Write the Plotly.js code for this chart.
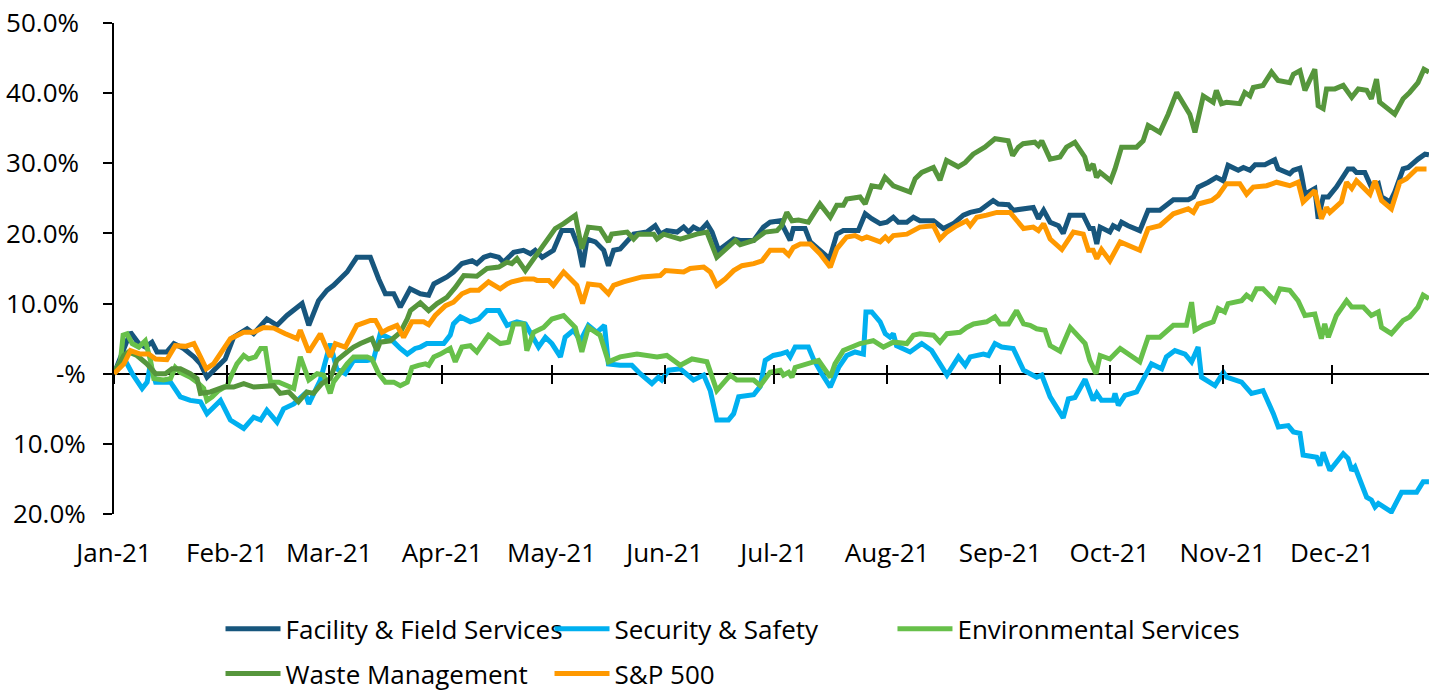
<!DOCTYPE html>
<html>
<head>
<meta charset="utf-8">
<script src="https://cdn.plot.ly/plotly-3.0.1.min.js"></script>
<style>
  html, body { margin: 0; padding: 0; background: #ffffff; }
  #chart { width: 1429px; height: 693px; }
</style>
</head>
<body>
<div id="chart"></div>
<script>
// ---- DATA (x = days since 1 Jan 2021, y = cumulative return in %) ----
const seriesNames = ["Facility & Field Services", "Security & Safety", "Environmental Services", "Waste Management", "S&P 500"];
const seriesColors = ["#17567D", "#00B0F0", "#67C04A", "#56963C", "#FF9900"];

const facilityDays = [0,4.5,6.8,8.6,10.4,11.8,14.5,16.4,19.1,21.9,23.7,25.5,27.8,30.5,32.8,36.5,38.3,41.9,44.7,47.4,51.6,53.4,56.1,58.4,60.2,63.9,66.6,70.3,72.6,74.4,76.7,78.5,81.2,84,86.3,87.7,91.3,93.1,95.4,98.2,99.5,101.4,103.2,105.5,106.8,109.6,112.3,114.2,115.5,117.4,120.5,122.8,125.6,127.4,128.5,129.7,132,134.3,135.6,137,138.8,142.5,146.1,148.4,149.8,151.6,154.4,156.2,157.6,158.9,160.8,162.6,164,165.8,168.1,169.9,171.7,175.4,178.1,179.9,182.7,184,185.4,186.3,189.5,190.9,193.6,196.2,198.2,200,204.1,206,207.8,210.1,211.9,213.7,215.1,217.4,219.2,221,224.7,227.4,230.2,232.9,234.8,237.5,241.1,242.5,245.3,246.6,252.1,253.5,254.9,256.7,259,260.3,262.1,265.8,267.6,268.5,269.5,270.4,273.1,274,275.4,276.3,278.1,281.3,283.6,286.8,290.5,294.6,296,297.3,300.1,302.3,304.2,305.5,308.3,309.7,311.5,312.9,315.6,317,318.3,319.2,322.4,323.4,325.2,325.6,326.6,329.3,330.2,331.6,333,335.2,338.4,339.8,340.7,343,344.8,346.7,347.6,349.9,351.2,353.5,354.9,357.6,359.5,360.6];
const facilityPct = [0,5.9,4.3,3.8,4.5,3.1,3.1,4.3,3.6,2.4,1.4,-0.5,0.7,2.1,5.2,6.4,5.7,7.8,6.9,8.3,10.0,6.9,10.4,11.9,12.6,14.5,16.6,16.6,13.5,11.4,11.4,9.5,12.1,11.4,11.2,12.8,13.8,14.5,15.7,16.1,15.7,16.6,16.9,16.6,15.9,17.3,17.6,17.1,17.6,16.6,17.6,20.4,20.4,18.0,15.2,19.2,18.8,17.6,15.4,17.6,17.8,19.9,20.2,21.1,19.9,20.4,20.2,20.9,20.2,20.9,20.4,21.4,20.2,17.6,18.5,19.2,19.0,19.0,20.9,21.6,21.8,20.4,19.0,20.7,20.7,18.8,17.6,16.4,19.9,20.4,20.4,22.8,22.1,21.4,21.6,22.3,21.6,21.6,22.3,21.8,21.8,20.7,21.4,22.6,23.0,23.3,24.7,24.2,24.1,23.3,23.7,22.1,23.3,21.6,21.1,20.0,22.6,22.6,20.7,20.7,18.5,20.9,20.2,21.1,20.7,21.6,21.1,20.4,23.3,23.3,24.8,24.8,25.2,26.6,27.3,28.0,27.5,29.7,29.0,29.4,29.0,29.8,29.8,30.2,30.5,29.2,28.5,29.0,29.3,28.5,25.6,26.4,22.1,25.2,25.2,26.6,29.2,29.2,28.7,28.7,26.6,27.1,25.2,24.5,25.9,29.2,29.4,30.6,31.3,31.2];

const securityDays = [0,3.1,5,7.7,9.1,10,11.4,15.5,18.2,20.9,23.7,25.5,29.2,31.9,35.6,38.3,40.2,41.9,44.7,46.5,49.3,52.4,53.4,56.6,59.3,61.1,63.4,65.7,69.4,71.2,73,75.8,78.5,80.4,82.6,84,85.8,90.4,92.2,93.1,95,97.7,100,102.3,105.5,107.8,110.5,112.8,116.4,118.3,120.1,122.4,123.7,126,127.9,130.1,132.4,134.5,135.6,138.8,142,144.3,147.5,149.3,150.2,152.1,155.3,158.9,161.7,163.5,165.3,168.5,169.9,171.3,175.4,177.2,178.6,180.8,182.7,184.5,185.4,186.8,190.4,191.8,194.1,196.4,198.7,200.9,203.2,205.5,206.2,207.8,210.1,211.5,212.8,213.7,214.6,218.3,221.5,224.2,226.5,228.4,231.6,233.4,234.8,238.4,239.8,241.6,243.4,246.6,249.4,253,254.4,256.7,260.3,261.7,263.5,266.3,268.5,269.5,270.8,274,274.5,275.4,277.2,280.4,284.5,287.3,288.6,290.9,293.7,295.5,297.3,298.2,301.9,304.2,305.1,309.2,311.9,315.1,317.9,319.3,322,323.4,325.2,326.1,329.8,330.7,331.6,333.4,337.1,338.4,339.4,340.3,343.5,344.8,345.8,346.7,350.3,353.1,357.2,359,360.6];
const securityPct = [0,1.9,0,-2.1,-1.2,1.4,-1.2,-1.2,-3.3,-3.8,-4.0,-5.7,-3.8,-6.6,-7.8,-6.2,-6.6,-5.2,-6.9,-5.0,-4.3,-2.8,-4.3,-0.9,4.3,0.7,0,1.9,1.9,2.1,5.7,5.0,3.6,2.8,3.6,3.8,4.3,4.3,5.5,7.1,8.1,7.4,7.8,9.0,9.0,6.9,7.4,7.1,3.8,5.2,4.3,2.4,5.2,6.2,4.7,6.9,5.9,6.9,1.4,1.2,1.2,0,-1.4,-0.5,-0.9,0.5,0.7,-0.9,-0.2,-2.4,-6.6,-6.6,-5.7,-3.3,-3.0,-1.8,1.9,2.6,2.8,3.1,2.4,3.8,3.8,2.1,0,-1.9,0.9,2.6,3.1,2.8,8.8,8.8,7.4,5.7,5.2,5.7,4.0,3.1,4.3,3.3,1.4,-0.2,2.4,1.2,2.4,2.8,2.6,4.3,3.8,3.6,0.5,-0.5,-0.2,-3.3,-6.3,-3.6,-3.4,-0.8,-3.8,-2.8,-3.8,-3.8,-2.8,-4.5,-3.1,-2.6,1.4,0.7,2.4,3.3,2.8,1.7,3.8,-0.5,-1.7,0.2,-0.5,-1.2,-2.8,-2.4,-5.7,-7.6,-7.4,-8.3,-8.5,-11.6,-11.9,-13.1,-11.2,-13.8,-11.4,-12.1,-13.8,-13.3,-17.6,-18.0,-19.0,-18.5,-19.7,-16.9,-16.9,-15.4,-15.4];

const environmentalDays = [0,1.8,2.5,3.6,5,6.8,8.6,10,10.9,13.6,15.5,16.8,18.2,20.9,22.8,24.6,25.5,26.9,28.7,31,32.4,33.7,35.6,36.9,38.8,40.2,41.5,42.9,45.2,47.4,49.3,51.1,53.4,55.7,57.5,59.3,60.2,63.9,65.7,69.4,70.7,72.6,74.4,76.7,78.5,80.4,81.7,83.5,85.4,86.3,87.7,89.5,92.2,93.6,95.4,97.7,99.5,102.7,105.9,108.2,109.6,112.3,113.2,115.1,117.8,120.1,123.3,126.5,128.3,130.1,133.3,135.6,138.8,143.4,148.9,151.6,155.3,158.5,162.6,165.3,169,170.8,175.4,177.2,179.9,182.7,183.6,185,185.9,186.8,190,193.2,196.4,197.7,200,202.3,204.6,206.4,208.2,211,213.7,217.4,219.2,221,224.7,226.5,228.4,232,233.8,235.7,239.3,241.6,243,245.3,247.5,249.4,251.2,253,255.3,256.7,259.4,262.2,264.9,266.3,267.6,269.3,270.4,273.1,275.9,281.3,283.6,286.8,290.5,294.1,295.5,296.4,298.7,301.4,302.8,304.6,305.5,309.2,310.6,311.9,313.3,315.1,318.3,319.7,322.4,324.7,326.6,329.3,331.1,332,333,335.2,338,339.4,342.6,344.8,346.7,347.6,350.3,353.5,355.3,357.6,359,360.6];
const environmentalPct = [0,1.9,5.5,5.7,4.3,3.8,4.7,1.9,-0.7,-0.9,-0.7,0.9,0.2,-0.5,-1.2,-2.1,-3.8,-3.3,-2.4,-1.7,0,1.4,2.6,2.1,2.4,3.6,3.6,-1.2,-1.2,-1.7,-2.1,2.4,-0.9,0,-0.2,-2.8,-1.2,1.4,2.4,2.4,2.1,0,-1.2,-1.2,-1.7,-1.2,0.9,1.2,1.4,1.2,2.4,2.8,3.6,1.7,3.8,4.0,3.1,5.5,4.3,4.5,7.1,7.1,3.3,5.9,6.6,7.8,8.3,6.6,3.1,6.6,5.5,1.7,2.4,2.8,2.4,2.6,1.2,2.1,1.7,-2.4,-0.2,-0.9,-0.9,-1.7,0.2,0.5,-0.2,0.2,-0.5,0.9,1.4,1.9,-0.5,1.4,3.3,3.8,4.3,4.5,4.7,3.8,4.5,4.3,5.5,5.7,5.5,4.5,5.7,5.9,6.6,7.1,7.4,8.1,7.1,7.1,9.0,7.1,6.9,6.4,6.2,4.0,3.2,6.6,5.2,4.3,1.9,0,2.6,2.1,3.6,1.7,5.2,5.2,6.9,6.9,10.2,6.2,6.9,7.4,9.3,8.8,10.0,10.4,11.2,10.7,12.1,12.1,10.4,12.1,11.9,10.4,8.3,8.5,5.0,7.1,5.2,8.3,10.4,9.5,9.5,8.3,8.8,6.6,5.7,7.6,8.1,9.5,11.2,10.7];

const wasteDays = [0,2.7,4,6.3,9,11.4,14.1,15.9,18.2,20.9,22.8,23.7,26.4,30.1,32.8,35.6,38.3,41.9,43.8,45.6,47.9,50.6,52.9,54.7,57,59.3,61.1,63.9,65.7,67.6,69.4,70.7,72.1,73,75.8,78.5,80.4,81.3,84,86.3,88.6,91.3,93.6,95.9,99.5,100.9,102.3,105.5,107.8,109.1,110.5,112.8,115.5,118.7,121,123.3,126.5,128.3,130.1,133.3,135.6,136.5,140.7,142.5,143.8,148,148.9,150.7,155.3,159.8,162.6,165.3,168.1,170.4,171.7,175.4,178.6,181.8,183.1,184.5,185.9,187.7,190.4,193.6,196.4,198.2,200,200.9,204.6,206,207.8,210.1,211.4,213.7,218.3,219.7,221.5,224.7,226.5,228.3,231.5,233.4,235.6,238.8,241.6,245.2,246.4,248,249.3,252.5,253.5,254.4,256.7,259.4,261.2,263.5,266.2,267.2,268.5,269.4,270.4,273.3,274.5,276.3,280.4,282.2,283.6,286.8,289.1,291.4,295,296.4,298.7,301.4,302.3,303.7,305.1,308.7,310.1,311.5,312.4,315.1,317.4,319.2,322.4,323.4,325.2,326.6,329.3,330.2,331.6,332.5,334.8,337.1,339.4,341.2,343.5,344.8,346.2,347.1,351.2,353.5,355.3,357.6,359.2,360.6];
const wastePct = [0,2.6,3.1,2.6,1.4,0,0,0.7,0.7,0,-0.7,-2.8,-2.6,-1.9,-1.9,-1.4,-1.9,-1.7,-1.7,-2.8,-2.6,-4.0,-2.6,-2.8,-1.4,-0.7,1.9,3.1,3.8,4.3,4.7,5.0,3.3,4.5,4.7,5.9,7.8,9.0,10.1,9.0,10.0,10.9,12.3,14.0,13.9,14.5,15.0,15.2,15.9,15.7,16.4,14.7,16.6,18.8,20.7,21.4,22.6,17.8,20.9,20.7,18.8,19.9,20.2,19.2,19.9,19.9,19.2,19.9,19.2,19.9,20.2,16.6,18.0,19.0,18.4,19.0,20.2,20.4,21.1,23.0,21.8,21.9,21.6,24.2,22.3,24.0,24.0,24.9,25.2,24.2,26.8,26.6,28.0,26.8,25.9,27.8,28.7,29.4,27.6,30.4,29.5,30.1,31.3,32.3,33.5,33.2,31.1,32.3,32.8,33.0,32.5,33.2,30.6,30.9,32.3,33.0,30.9,29.0,29.9,28.0,28.7,27.5,29.2,32.3,32.3,33.2,35.4,34.4,37.0,40.1,37.0,34.4,39.6,38.7,40.4,38.5,38.7,38.5,40.1,39.6,40.8,41.1,43.0,41.8,41.5,42.7,43.2,40.4,43.4,38.2,37.8,40.6,40.6,41.1,39.4,40.6,40.4,39.2,42.0,38.7,37.0,39.2,40.1,41.5,43.4,43.0];

const sp500Days = [0,2.7,4.5,7.2,9.5,11.4,14.5,16.8,19.6,21.9,23.7,25.3,27.3,29.6,31.9,35.6,38.3,41,43.8,47,50.2,51.1,53.4,56.6,59.3,60.7,63.4,66.6,70.3,71.7,73.5,75.3,77.6,79.4,81.7,84.9,86.3,88.1,90.9,93.1,95.4,97.7,100,102.7,105.9,107.8,109.1,112.3,115.1,116,119.2,120.5,123.3,126.9,128.5,130.1,133.3,135.6,137,139.7,142.5,144.8,149.8,151.2,156.2,158,161.7,163.5,165.3,167.6,169.9,172.2,175.4,177.7,179.9,183.6,185,186.3,188.2,190.9,193.6,196.4,198.2,200.9,203.2,205.1,206.4,210.1,211.5,212.4,213.7,217.4,221,224.7,226.5,228.4,231.1,233.8,234.8,236.6,239.3,242.1,245.7,249.4,252.1,253.5,254.9,256.7,259.9,263.1,265.8,267.2,268.5,269.5,270.8,273.1,275.9,281.3,283.6,286.8,290.5,294.6,296,297.3,301,302.8,305.1,308.7,310.6,312.4,316.1,318.8,322.4,324.7,326.1,329.3,331.1,332.5,333.4,336.6,338,339.4,340.7,344.4,345.8,347.6,350.3,352.6,354.4,357.2,359.9];
const sp500Pct = [0,1.4,3.3,2.8,2.8,2.1,2.0,4.0,3.9,4.3,2.4,0.7,1.4,3.1,5.0,5.9,5.9,6.6,6.5,5.7,5.0,6.2,3.1,5.7,2.4,4.3,3.8,6.9,7.6,7.6,5.9,6.4,6.9,5.2,7.4,7.4,7.0,8.3,9.7,10.2,11.4,11.9,11.9,13.1,12.1,12.8,13.1,13.5,13.5,13.3,13.3,12.6,14.5,12.6,10.0,12.8,12.6,11.4,12.6,13.1,13.5,13.8,14.0,14.7,14.5,15.0,15.2,14.5,12.6,13.5,14.7,15.4,15.7,16.1,17.6,17.6,16.9,18.0,18.5,18.5,17.1,15.2,17.8,19.5,19.7,19.2,19.5,18.8,19.5,19.0,19.7,19.9,20.9,21.1,19.2,20.2,21.1,21.8,21.1,22.3,22.6,23.0,23.0,20.7,20.9,20.4,21.4,19.2,17.7,20.2,19.9,17.6,17.6,16.4,17.7,16.1,18.8,17.6,20.7,21.1,22.8,23.5,23.0,24.2,24.7,25.4,27.1,27.1,25.6,26.6,26.8,27.3,26.8,27.3,24.5,26.1,22.1,23.7,23.0,24.5,27.3,26.4,27.5,25.6,27.5,24.7,23.5,27.3,27.8,29.2,29.2];

// y-axis tick labels as printed on the chart
const yTickVals = [50, 40, 30, 20, 10, 0, -10, -20];
const yTickText = ["50.0%\u00A0", "40.0%\u00A0", "30.0%\u00A0", "20.0%\u00A0", "10.0%\u00A0", "-%", "10.0%", "20.0%"];

const xStart = "2021-01-01";
const xEnd = "2021-12-27 14:24";

// ---- helpers ----
function dayToDate(d) {
  const t = new Date(Date.UTC(2021, 0, 1) + Math.round(d * 24) * 3600000);
  const p = n => String(n).padStart(2, "0");
  return t.getUTCFullYear() + "-" + p(t.getUTCMonth() + 1) + "-" + p(t.getUTCDate()) + " " + p(t.getUTCHours()) + ":00";
}

const allDays = [facilityDays, securityDays, environmentalDays, wasteDays, sp500Days];
const allPct = [facilityPct, securityPct, environmentalPct, wastePct, sp500Pct];
const legendOf = ["legend", "legend", "legend3", "legend2", "legend2"];

const FONT = "Open Sans, Noto Sans, DejaVu Sans, sans-serif";
const FS = 26;

const traces = allDays.map((days, i) => ({
  type: "scatter",
  mode: "lines",
  name: seriesNames[i],
  x: days.map(dayToDate),
  y: allPct[i],
  line: { color: seriesColors[i], width: 5 },
  legend: legendOf[i],
  hovertemplate: "%{x|%d %b %Y}: %{y:.1f}%<extra>" + seriesNames[i] + "</extra>"
}));

// invisible helpers so the crossing month tick marks on the zero line get drawn
traces.push({ type: "scatter", x: [], y: [], xaxis: "x2", showlegend: false, hoverinfo: "skip" });
traces.push({ type: "scatter", x: [], y: [], xaxis: "x3", showlegend: false, hoverinfo: "skip" });

const zeroPos = (0 - yTickVals[yTickVals.length - 1]) / (yTickVals[0] - yTickVals[yTickVals.length - 1]);

const tickAxis = (dir) => ({
  type: "date",
  overlaying: "x",
  anchor: "free",
  position: zeroPos,
  range: [xStart, xEnd],
  autorange: false,
  tickmode: "linear",
  tick0: xStart,
  dtick: "M1",
  ticks: dir,
  ticklen: 9,
  tickwidth: 2,
  tickcolor: "#000000",
  showticklabels: false,
  showline: false,
  showgrid: false,
  zeroline: false,
  fixedrange: true
});

const legendBase = {
  orientation: "h",
  xanchor: "left",
  yanchor: "middle",
  itemwidth: 55,
  entrywidth: 259,
  entrywidthmode: "pixels",
  font: { family: FONT, size: FS, color: "#000000" },
  bgcolor: "rgba(0,0,0,0)",
  traceorder: "normal"
};

const layout = {
  width: 1429,
  height: 693,
  margin: { l: 114, r: 0, t: 23, b: 179, pad: 0, autoexpand: false },
  paper_bgcolor: "#ffffff",
  plot_bgcolor: "#ffffff",
  font: { family: FONT, size: FS, color: "#000000" },
  showlegend: true,
  xaxis: {
    type: "date",
    range: [xStart, xEnd],
    autorange: false,
    tickmode: "linear",
    tick0: xStart,
    dtick: "M1",
    tickformat: "%b-%y",
    ticks: "",
    ticklabelstandoff: 21,
    showline: false,
    showgrid: false,
    zeroline: false,
    tickfont: { family: FONT, size: FS, color: "#000000" },
    fixedrange: true
  },
  xaxis2: tickAxis("outside"),
  xaxis3: tickAxis("inside"),
  yaxis: {
    range: [yTickVals[yTickVals.length - 1], yTickVals[0]],
    autorange: false,
    tickmode: "array",
    tickvals: yTickVals,
    ticktext: yTickText,
    ticks: "outside",
    ticklen: 9,
    tickwidth: 2,
    tickcolor: "#000000",
    ticklabelstandoff: 12,
    showline: true,
    linecolor: "#000000",
    linewidth: 2,
    showgrid: false,
    zeroline: true,
    zerolinecolor: "#000000",
    zerolinewidth: 2,
    tickfont: { family: FONT, size: FS, color: "#000000" },
    fixedrange: true
  },
  legend: Object.assign({}, legendBase, { x: 0.081, y: -0.234 }),
  legend2: Object.assign({}, legendBase, { x: 0.081, y: -0.325 }),
  legend3: Object.assign({}, legendBase, { x: 0.592, y: -0.234, entrywidth: 300 })
};

Plotly.newPlot("chart", traces, layout, { displayModeBar: false });
</script>
</body>
</html>
